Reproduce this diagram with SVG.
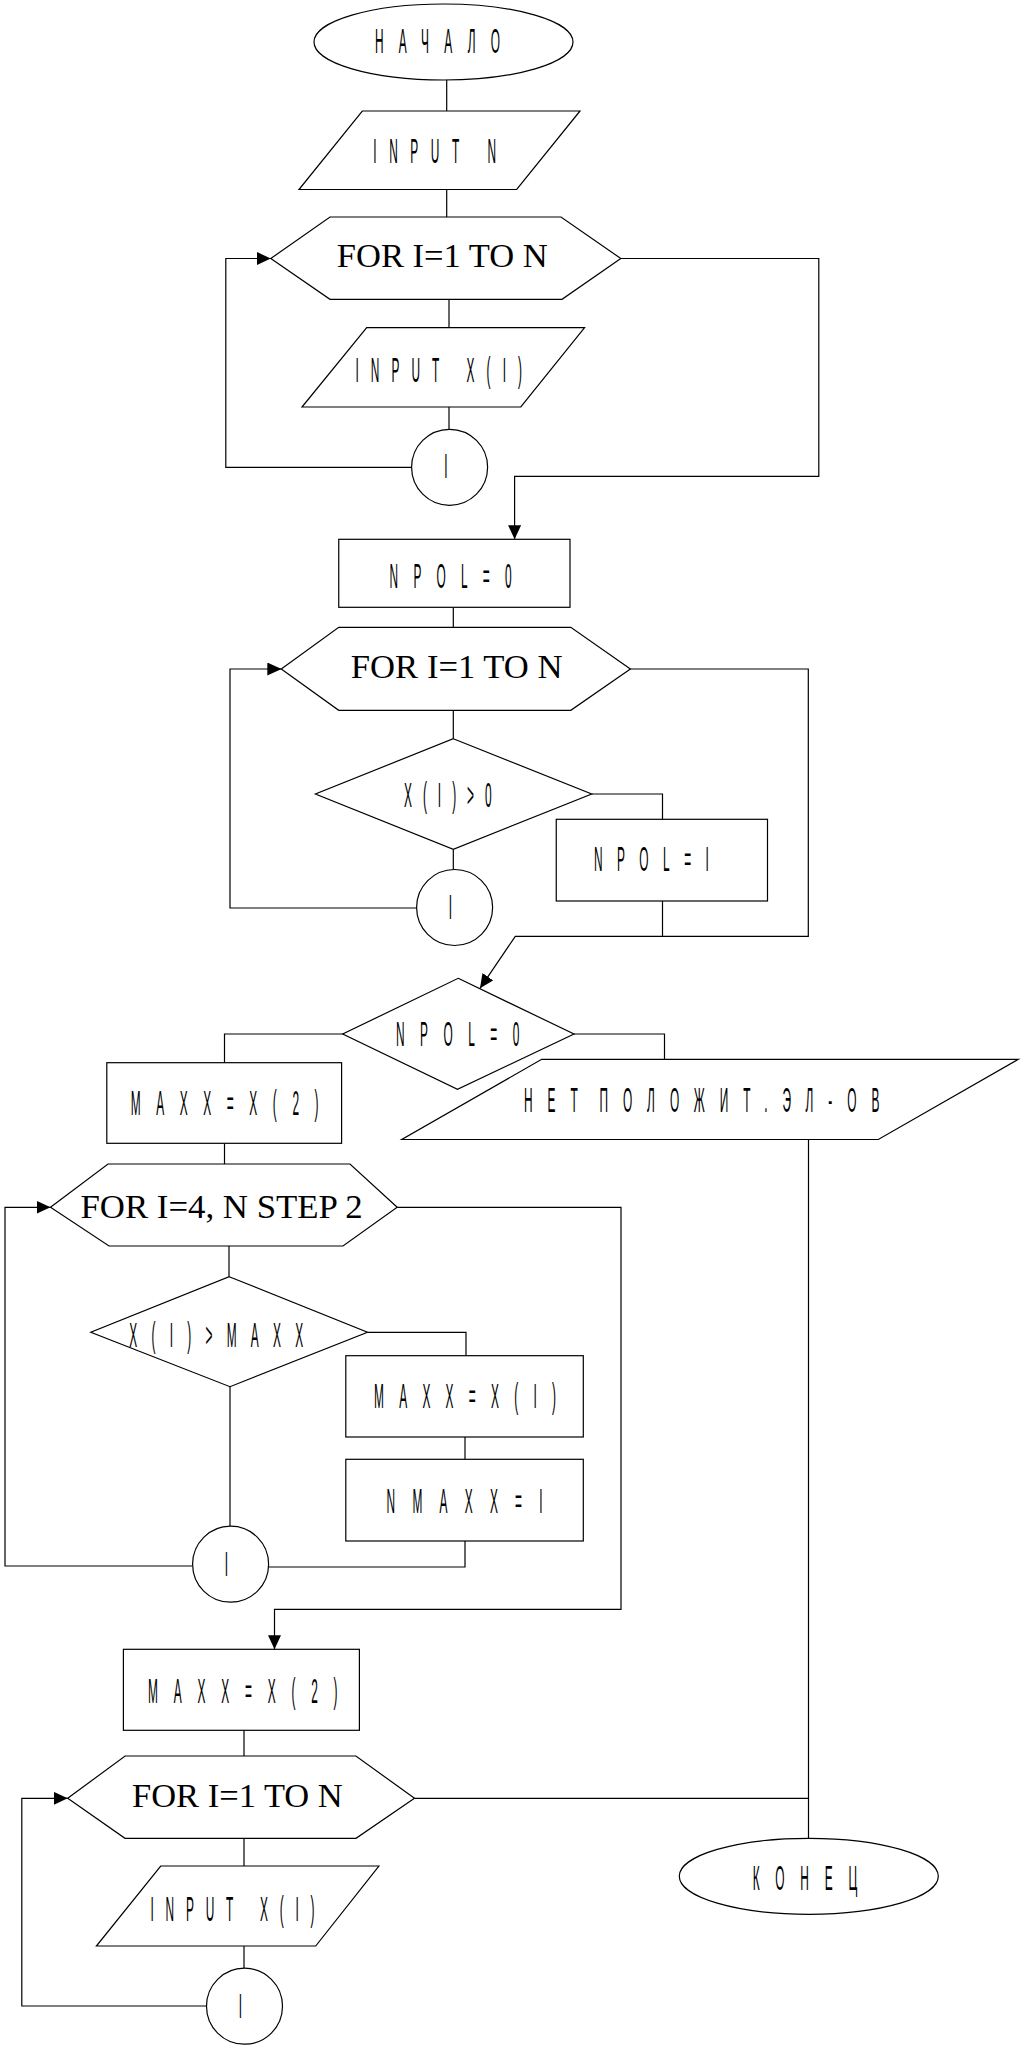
<svg xmlns="http://www.w3.org/2000/svg" width="1022" height="2048" viewBox="0 0 1022 2048">
<defs>
<style>
.n{fill:#fff;stroke:#000;stroke-width:1.2}
.c{fill:none;stroke:#000;stroke-width:1.2}
.s{font-family:"Liberation Sans",Arial,sans-serif;font-size:35px;text-anchor:middle;fill:#000}
.f{font-family:"Liberation Serif","Times New Roman",serif;font-size:34px;text-anchor:middle;fill:#000}
</style>
<marker id="a" viewBox="0 0 14 13" refX="14" refY="6.5" markerWidth="14" markerHeight="13" markerUnits="userSpaceOnUse" orient="auto"><path d="M0,0L14,6.5L0,13z" fill="#000"/></marker>
</defs>
<rect width="1022" height="2048" fill="#fff"/>
<g id="connectors" class="c">
<path d="M446.7,80V111"/>
<path d="M446.7,189.5V217"/>
<path d="M449,299.3V327.7"/>
<path d="M449,407V429.3"/>
<path d="M411.7,467.3H225.8V258.5H270.8" marker-end="url(#a)"/>
<path d="M620.8,258.5H818.8V476.3H514.6V539.3" marker-end="url(#a)"/>
<path d="M453.3,607.3V627.3"/>
<path d="M453.3,710.3V738.7"/>
<path d="M591.7,794H662.5V819.3"/>
<path d="M662.5,901V936.3"/>
<path d="M453.3,849.3V869.5"/>
<path d="M416.7,908H230V669H281.3" marker-end="url(#a)"/>
<path d="M630.4,669H808.3V936.3H515.3L480,988.3" marker-end="url(#a)"/>
<path d="M574,1034H664.5V1059.3"/>
<path d="M342.7,1034H224.5V1062.7"/>
<path d="M224.5,1143.3V1164"/>
<path d="M808.5,1139.5V1838.3"/>
<path d="M229,1246V1276.7"/>
<path d="M367.5,1332.3H466V1355.7"/>
<path d="M465,1437V1459.3"/>
<path d="M465,1541V1567H268.6"/>
<path d="M230,1386.7V1526"/>
<path d="M192.5,1566H5V1207.3H50.5" marker-end="url(#a)"/>
<path d="M397.2,1207.3H621V1609.3H274.5V1649.3" marker-end="url(#a)"/>
<path d="M244,1730.3V1756"/>
<path d="M244,1838.3V1866"/>
<path d="M244,1946V1968.3"/>
<path d="M206.7,2006H21.8V1798.3H67.7" marker-end="url(#a)"/>
<path d="M414.5,1798.3H808.5"/>
</g>
<g id="start"><ellipse class="n" cx="443.5" cy="42" rx="129.5" ry="38"/><text class="s" transform="translate(437.5,53.3) scale(0.34,1)" textLength="367.6">НАЧАЛО</text></g>
<g id="inputN"><polygon class="n" points="362.3,111 580,111 516.7,189.5 299,189.5"/><text class="s" transform="translate(434.7,162.7) scale(0.34,1)" textLength="360.9">INPUT N</text></g>
<g id="loop1"><polygon class="n" points="330,217 561,217 620.8,258.5 562,299.3 330,299.3 270.8,258.5"/><text class="f" x="442.3" y="267.3" textLength="211" lengthAdjust="spacingAndGlyphs">FOR I=1 TO N</text></g>
<g id="inputX1"><polygon class="n" points="366.7,327.7 584.6,327.7 520.8,407 302,407"/><text class="s" transform="translate(438.7,381.7) scale(0.34,1)" textLength="490">INPUT X(I)</text></g>
<g id="end1"><circle class="n" cx="449.6" cy="467.3" r="38"/><text class="s" transform="translate(445.8,478) scale(0.34,1)">I</text></g>
<g id="npol0"><rect class="n" x="338.75" y="539.3" width="231.25" height="68"/><text class="s" transform="translate(450.6,588.3) scale(0.34,1)" textLength="358.8">NPOL=0</text></g>
<g id="loop2"><polygon class="n" points="338.75,627.3 570.8,627.3 630.4,669 570.8,710.3 338.75,710.3 281.25,669"/><text class="f" x="456.7" y="678.3" textLength="211.7" lengthAdjust="spacingAndGlyphs">FOR I=1 TO N</text></g>
<g id="cond1"><polygon class="n" points="453.3,738.7 591.7,794 453.3,849.3 315.4,794"/><text class="s" transform="translate(447.8,806.7) scale(0.34,1)" textLength="257.9">X(I)&gt;0</text></g>
<g id="npolI"><rect class="n" x="556.25" y="819.3" width="211.25" height="81.7"/><text class="s" transform="translate(651.4,870.7) scale(0.34,1)" textLength="338.2">NPOL=I</text></g>
<g id="end2"><circle class="n" cx="454.6" cy="907.5" r="38"/><text class="s" transform="translate(450.5,918.5) scale(0.34,1)">I</text></g>
<g id="cond2"><polygon class="n" points="458.2,978.3 574,1034 457.5,1089.3 342.7,1034"/><text class="s" transform="translate(457.7,1046) scale(0.34,1)" textLength="363.2">NPOL=0</text></g>
<g id="maxx1"><rect class="n" x="106.8" y="1062.7" width="234.8" height="80.6"/><text class="s" transform="translate(224.7,1115) scale(0.34,1)" textLength="552">MAXX=X(2)</text></g>
<g id="noPos"><polygon class="n" points="541.7,1059.3 1018.3,1059.3 878.3,1139.5 401.8,1139.5"/><text class="s" transform="translate(709.2,1111.7) scale(0.34,1)" style="letter-spacing:44px;word-spacing:-33.7px">НЕТ ПОЛОЖИТ.ЭЛ-ОВ</text></g>
<g id="loop3"><polygon class="n" points="108,1164 350,1164 397.2,1207.3 343,1246 109,1246 50.5,1207.3"/><text class="f" x="221.6" y="1218.3" textLength="282.4" lengthAdjust="spacingAndGlyphs">FOR I=4, N STEP 2</text></g>
<g id="cond3"><polygon class="n" points="229.2,1276.7 367.5,1332.3 230,1386.7 90.8,1332.3"/><text class="s" transform="translate(216.2,1347.3) scale(0.34,1)" textLength="511.8">X(I)&gt;MAXX</text></g>
<g id="maxxI"><rect class="n" x="345.8" y="1355.7" width="237.5" height="81.3"/><text class="s" transform="translate(465,1408.3) scale(0.34,1)" textLength="535.3">MAXX=X(I)</text></g>
<g id="nmaxx"><rect class="n" x="345.8" y="1459.3" width="237.5" height="81.7"/><text class="s" transform="translate(464.6,1512.7) scale(0.34,1)" textLength="458.8">NMAXX=I</text></g>
<g id="end3"><circle class="n" cx="230.6" cy="1564.2" r="38"/><text class="s" transform="translate(226.5,1576) scale(0.34,1)">I</text></g>
<g id="maxx2"><rect class="n" x="123.4" y="1649.3" width="236" height="81"/><text class="s" transform="translate(242.8,1702.7) scale(0.34,1)" textLength="557">MAXX=X(2)</text></g>
<g id="loop4"><polygon class="n" points="125.1,1756 355.9,1756 414.5,1798.3 356,1838.3 125,1838.3 67.7,1798.3"/><text class="f" x="237.4" y="1807.3" textLength="210.7" lengthAdjust="spacingAndGlyphs">FOR I=1 TO N</text></g>
<g id="inputX2"><polygon class="n" points="160.7,1866 378.9,1866 315.7,1946 96.4,1946"/><text class="s" transform="translate(232.5,1920.7) scale(0.34,1)" textLength="482.4">INPUT X(I)</text></g>
<g id="end4"><circle class="n" cx="244.5" cy="2006.2" r="38"/><text class="s" transform="translate(240.5,2018) scale(0.34,1)">I</text></g>
<g id="finish"><ellipse class="n" cx="808.8" cy="1876.3" rx="129.5" ry="38"/><text class="s" transform="translate(805,1890) scale(0.34,1)" textLength="307.6">КОНЕЦ</text></g>
</svg>
